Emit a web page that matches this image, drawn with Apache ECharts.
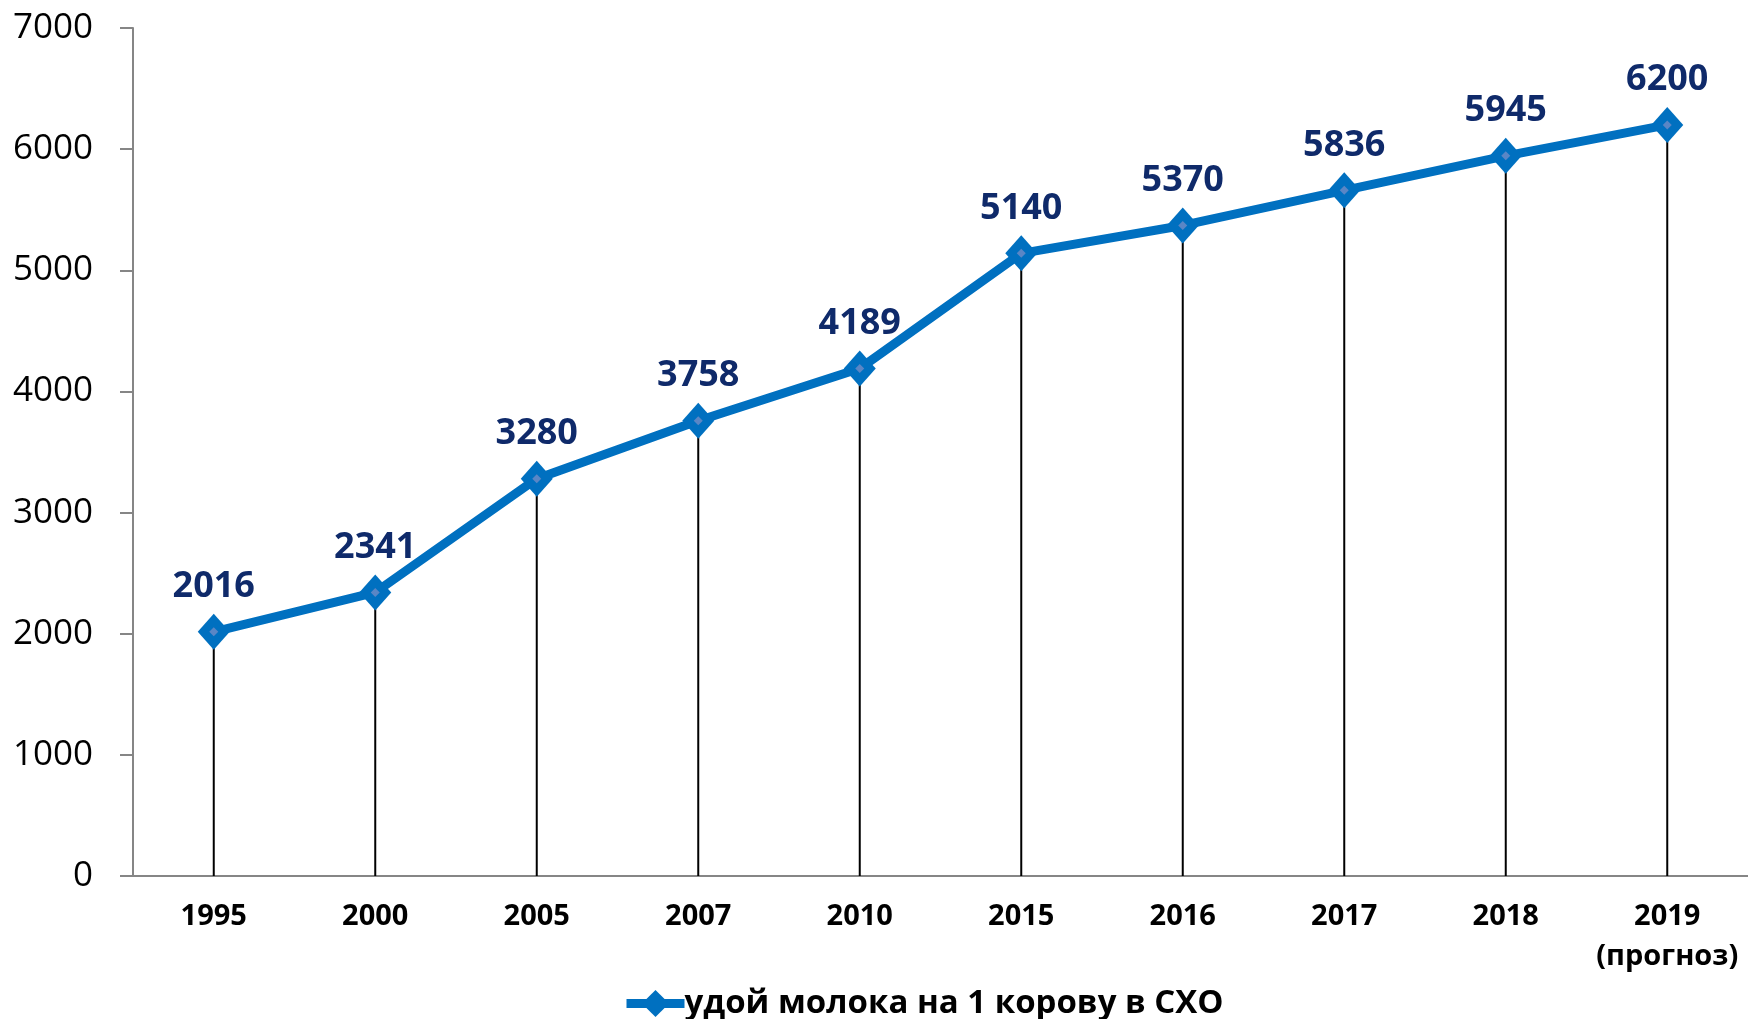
<!DOCTYPE html>
<html>
<head>
<meta charset="utf-8">
<script src="https://cdn.jsdelivr.net/npm/echarts@6/dist/echarts.min.js"></script>
<style>
  html, body { margin: 0; padding: 0; background: #fff; }
  #chart { width: 1748px; height: 1019px; }
</style>
</head>
<body>
<div id="chart"></div>
<script>
const years = ['1995', '2000', '2005', '2007', '2010', '2015', '2016', '2017', '2018', '2019\n(прогноз)']
// plotted positions (2017 point sits lower than its printed label in the source)
const milkYield = [2016, 2341, 3280, 3758, 4189, 5140, 5370, 5660, 5945, 6200]
const pointLabels = ['2016', '2341', '3280', '3758', '4189', '5140', '5370', '5836', '5945', '6200']
const seriesName = 'удой молока на 1 корову в СХО'

const chart = echarts.init(document.getElementById('chart'))

const option = {
  backgroundColor: '#fff',
  animation: false,
  grid: { left: 133, right: -4, top: 28, bottom: 143, containLabel: false },
  legend: {
    data: [seriesName],
    left: 617,
    top: 982,
    itemWidth: 58,
    itemHeight: 34,
    itemGap: 4,
    lineStyle: { width: 9 },
    textStyle: { fontSize: 33, fontWeight: 'bold', color: '#000', fontFamily: 'Open Sans', padding: [0, 0, 0, -5] }
  },
  xAxis: {
    type: 'category',
    data: years,
    axisLine: { lineStyle: { color: '#868686', width: 2 } },
    axisTick: { show: false },
    axisLabel: {
      interval: 0,
      margin: 21,
      fontSize: 29,
      fontWeight: 'bold',
      lineHeight: 40,
      color: '#000',
      fontFamily: 'Open Sans'
    }
  },
  yAxis: {
    type: 'value',
    min: 0,
    max: 7000,
    interval: 1000,
    axisLine: { show: true, lineStyle: { color: '#868686', width: 2 } },
    axisTick: { show: true, length: 13, lineStyle: { color: '#868686', width: 2 } },
    splitLine: { show: false },
    axisLabel: {
      margin: 40,
      fontSize: 35,
      color: '#000',
      fontFamily: 'Open Sans',
      formatter: v => String(v)
    }
  },
  series: [
    {
      name: 'drop',
      type: 'bar',
      data: milkYield,
      barWidth: 2,
      itemStyle: { color: '#000' },
      silent: true,
      z: 1
    },
    {
      name: seriesName,
      type: 'line',
      data: milkYield,
      symbol: 'diamond',
      symbolSize: [32, 36],
      lineStyle: { color: '#0070C0', width: 9 },
      itemStyle: { color: '#0070C0' },
      z: 3,
      label: {
        show: true,
        position: 'top',
        distance: 9,
        formatter: p => pointLabels[p.dataIndex],
        fontSize: 36,
        fontWeight: 'bold',
        color: '#0F2A6A',
        fontFamily: 'Open Sans'
      }
    },
    {
      name: 'inner',
      type: 'line',
      data: milkYield,
      symbol: 'diamond',
      symbolSize: 9,
      lineStyle: { width: 0, opacity: 0 },
      itemStyle: { color: '#5A86C5' },
      silent: true,
      z: 4
    }
  ]
}

chart.setOption(option)
window.addEventListener('resize', () => chart.resize())
</script>
</body>
</html>
